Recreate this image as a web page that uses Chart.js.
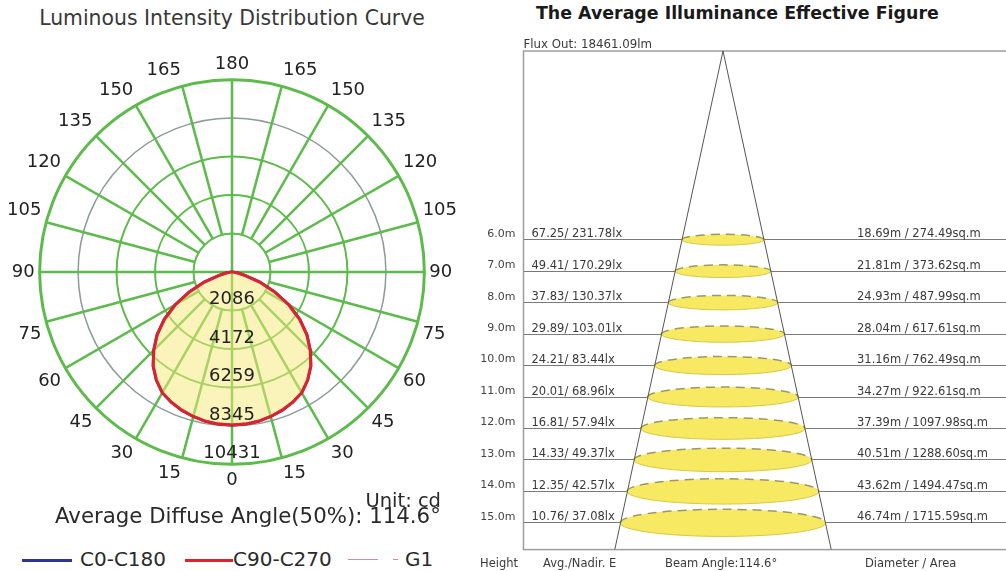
<!DOCTYPE html>
<html>
<head>
<meta charset="utf-8">
<script src="https://cdn.jsdelivr.net/npm/chart.js@4.4.0/dist/chart.umd.min.js"></script>
<style>
  html, body { margin: 0; padding: 0; background: #fff; }
  body { width: 1006px; height: 571px; position: relative; overflow: hidden;
         font-family: "DejaVu Sans", Verdana, sans-serif; color: #2a2a2a; }
  .txt { position: absolute; white-space: nowrap; }
  #polar-title { left: 0; width: 464px; top: 8px; font-size: 20.4px; line-height: 20px; text-align: center; color: #383838; }
  #unit { left: 0; width: 441px; top: 491px; font-size: 19.5px; line-height: 20px; text-align: right; }
  #diffuse { left: 55px; top: 506px; font-size: 21.3px; line-height: 20px; }
  #legend { position: absolute; left: 0; top: 548px; width: 465px; height: 22px; }
  .leg { position: absolute; top: 0; font-size: 20px; line-height: 22px; white-space: nowrap; }
  .leg i { position: absolute; top: 11px; height: 0; }
  #cone-title { left: 536px; top: 5px; font-size: 17.4px; line-height: 17px; font-weight: bold; color: #1a1a1a; }
  #polar-wrap { position: absolute; left: 7px; top: 51px; width: 451px; height: 444px; }
  #cone-wrap { position: absolute; left: 470px; top: 0; width: 542px; height: 571px; }
</style>
</head>
<body>
<div class="txt" id="polar-title">Luminous Intensity Distribution Curve</div>
<div id="polar-wrap"><canvas id="polar"></canvas></div>
<div class="txt" id="unit">Unit: cd</div>
<div class="txt" id="diffuse">Average Diffuse Angle(50%): 114.6°</div>
<div id="legend"></div>

<div class="txt" id="cone-title">The Average Illuminance Effective Figure</div>
<div id="cone-wrap"><canvas id="cone"></canvas></div>

<script>
// ---- polar curve data (cd), gamma angle 0 = straight down ----
const ANGLES = [0, 5, 10, 15, 20, 25, 30, 35, 40, 45, 50, 55, 60, 65, 70, 75, 80, 85, 90,
                95, 100, 105, 110, 115, 120, 125, 130, 135, 140, 145, 150, 155, 160, 165, 170, 175, 180];
const C0_C180 = [8300, 8280, 8220, 8110, 7970, 7790, 7560, 7150, 6650, 6000, 5300, 4480, 3550, 2550, 1600, 750, 330, 80, 0,
                 0, 0, 0, 0, 0, 0, 0, 0, 0, 0, 0, 0, 0, 0, 0, 0, 0, 0];
const C90_C270 = [8300, 8280, 8220, 8110, 7970, 7790, 7560, 7150, 6650, 6000, 5300, 4480, 3550, 2550, 1600, 750, 330, 80, 0,
                  0, 0, 0, 0, 0, 0, 0, 0, 0, 0, 0, 0, 0, 0, 0, 0, 0, 0];
const RING_VALUES = [0, 2086, 4172, 6259, 8345, 10431];

// ---- illuminance figure data ----
const FLUX_OUT = '18461.09lm';
const BEAM_ANGLE = 114.6;
const HEIGHTS = [6, 7, 8, 9, 10, 11, 12, 13, 14, 15];
const AVG_E = [67.25, 49.41, 37.83, 29.89, 24.21, 20.01, 16.81, 14.33, 12.35, 10.76];
const NADIR_E = [231.78, 170.29, 130.37, 103.01, 83.44, 68.96, 57.94, 49.37, 42.57, 37.08];
const DIAMETERS = [18.69, 21.81, 24.93, 28.04, 31.16, 34.27, 37.39, 40.51, 43.62, 46.74];
const AREAS = [274.49, 373.62, 487.99, 617.61, 762.49, 922.61, 1097.98, 1288.60, 1494.47, 1715.59];
const CONE_X = [-24.6, 0, 24.6];
const CONE_Y = [15.85, 0, 15.85];

const FONT = '"DejaVu Sans", Verdana, sans-serif';
const GREEN = '#5dbb4c';
const RING_GREY = '#8d9b99';
const RED = '#e0202c';
const BLUE = '#2c3596';
const PINK = '#d98a94';

// radar runs clockwise from the top: top = 180, right = 90, bottom = 0, left = 90
const radarLabels = [];
for (let i = 0; i < 72; i++) {
    const a = i * 5;
    radarLabels.push(String(a <= 180 ? 180 - a : a - 180));
}
const toRadar = vals => radarLabels.map(l => vals[ANGLES.indexOf(+l)]);

const polarDecor = {
    id: 'polarDecor',
    beforeDatasetsDraw(chart) {
        const r = chart.scales.r;
        const ctx = chart.ctx;
        ctx.save();
        ctx.strokeStyle = GREEN;
        ctx.lineWidth = 2.5;
        for (let i = 0; i < radarLabels.length; i += 3) {
            const axis = i % 18 === 0;
            const from = r.getPointPositionForValue(i, axis ? 0 : RING_VALUES[1]);
            const to = r.getPointPositionForValue(i, r.max);
            ctx.beginPath();
            ctx.moveTo(from.x, from.y);
            ctx.lineTo(to.x, to.y);
            ctx.stroke();
        }
        ctx.restore();
    },
    afterDatasetsDraw(chart) {
        const r = chart.scales.r;
        const ctx = chart.ctx;
        ctx.save();
        ctx.font = '18px ' + FONT;
        ctx.fillStyle = '#222';
        ctx.textAlign = 'center';
        ctx.textBaseline = 'middle';
        RING_VALUES.slice(1).forEach(v => {
            const d = r.getDistanceFromCenterForValue(v);
            ctx.fillText(String(v), r.xCenter, r.yCenter + d - 11);
        });
        ctx.restore();
    }
};

const polar = new Chart(document.getElementById('polar'), {
    type: 'radar',
    data: {
        labels: radarLabels,
        datasets: [
            { label: 'C0-C180', data: toRadar(C0_C180), borderColor: BLUE, borderWidth: 3,
              fill: false, pointRadius: 0, order: 2 },
            { label: 'C90-C270', data: toRadar(C90_C270), borderColor: RED, borderWidth: 3,
              backgroundColor: 'rgba(246,234,120,0.5)', fill: 'origin', pointRadius: 0, order: 1 },
            { label: 'G1', data: [], borderColor: PINK, borderWidth: 1, borderDash: [6, 4],
              pointRadius: 0, order: 3 }
        ]
    },
    options: {
        responsive: true,
        maintainAspectRatio: false,
        animation: false,
        plugins: { legend: { display: false }, tooltip: { enabled: false } },
        elements: { line: { tension: 0 } },
        scales: {
            r: {
                min: 0,
                max: 10431,
                startAngle: 0,
                afterBuildTicks: s => { s.ticks = RING_VALUES.map(v => ({ value: v })); },
                ticks: { display: false },
                grid: {
                    circular: true,
                    color: c => c.index === 4 ? RING_GREY : GREEN,
                    lineWidth: c => c.index === 5 ? 3 : (c.index === 4 ? 1.5 : 2)
                },
                angleLines: { display: false },
                pointLabels: {
                    font: { family: FONT, size: 18 },
                    color: '#222',
                    padding: 5,
                    callback: (l, i) => i % 3 === 0 ? l : ''
                }
            }
        }
    },
    plugins: [polarDecor]
});

// html legend from the polar datasets
(function buildLegend() {
    const lefts = [22, 185, 348];
    const lines = [50, 48, 30];
    const gaps = [8, 0, 27];
    const box = document.getElementById('legend');
    polar.data.datasets.forEach((ds, i) => {
        const item = document.createElement('div');
        item.className = 'leg';
        item.style.left = lefts[i] + 'px';
        item.style.paddingLeft = (lines[i] + gaps[i]) + 'px';
        item.textContent = ds.label;
        const ln = document.createElement('i');
        ln.style.left = '0px';
        ln.style.width = lines[i] + 'px';
        ln.style.borderTop = ds.borderWidth + 'px solid ' + ds.borderColor;
        item.appendChild(ln);
        if (ds.borderDash) {
            const dash = document.createElement('i');
            dash.style.left = (lines[i] + 15) + 'px';
            dash.style.width = '5px';
            dash.style.borderTop = '1px solid ' + ds.borderColor;
            item.appendChild(dash);
        }
        box.appendChild(item);
    });
})();

// ---- illuminance cone ----
const coneDecor = {
    id: 'coneDecor',
    beforeDatasetsDraw(chart) {
        const { ctx, chartArea: a, scales: { x, y } } = chart;
        ctx.save();
        ctx.strokeStyle = '#9d9d9d';
        ctx.lineWidth = 1.5;
        ctx.strokeRect(a.left, a.top, a.right - a.left, a.bottom - a.top);
        const cx = x.getPixelForValue(0);
        HEIGHTS.forEach((h, i) => {
            const rx = x.getPixelForValue(DIAMETERS[i] / 2) - cx;
            const ry = rx * 0.132;
            const cy = y.getPixelForValue(h);
            ctx.beginPath();
            ctx.ellipse(cx, cy, rx, ry, 0, 0, Math.PI * 2);
            ctx.fillStyle = '#f7ea62';
            ctx.fill();
            ctx.beginPath();
            ctx.ellipse(cx, cy, rx, ry, 0, 0, Math.PI);
            ctx.setLineDash([]);
            ctx.lineWidth = 1;
            ctx.strokeStyle = '#d6c84a';
            ctx.stroke();
            ctx.beginPath();
            ctx.ellipse(cx, cy, rx, ry, 0, Math.PI, Math.PI * 2);
            ctx.setLineDash([9, 6]);
            ctx.lineWidth = 1.5;
            ctx.strokeStyle = '#9e9765';
            ctx.stroke();
        });
        ctx.restore();
    },
    afterDraw(chart) {
        const { ctx, chartArea: a, scales: { y } } = chart;
        ctx.save();
        ctx.fillStyle = '#3a3a3a';
        ctx.textBaseline = 'alphabetic';
        ctx.font = '11.8px ' + FONT;
        ctx.fillText('Flux Out: ' + FLUX_OUT, a.left, a.top - 3);
        ctx.font = '11.5px ' + FONT;
        HEIGHTS.forEach((h, i) => {
            const yy = y.getPixelForValue(h) - 2.5;
            ctx.fillText(AVG_E[i].toFixed(2) + '/ ' + NADIR_E[i].toFixed(2) + 'lx', a.left + 8, yy);
            ctx.fillText(DIAMETERS[i].toFixed(2) + 'm / ' + AREAS[i].toFixed(2) + 'sq.m', 387, yy);
        });
        ctx.font = '11.5px ' + FONT;
        ctx.textBaseline = 'middle';
        const yb = a.bottom + 14;
        ctx.fillText('Height', 10, yb);
        ctx.fillText('Avg./Nadir. E', 73, yb);
        ctx.fillText('Beam Angle:' + BEAM_ANGLE + '°', 195, yb);
        ctx.fillText('Diameter / Area', 395, yb);
        ctx.restore();
    }
};

new Chart(document.getElementById('cone'), {
    type: 'scatter',
    data: {
        datasets: [{
            label: 'beam',
            data: CONE_X.map((v, i) => ({ x: v, y: CONE_Y[i] })),
            showLine: true,
            borderColor: '#555',
            borderWidth: 1,
            pointRadius: 0
        }]
    },
    options: {
        responsive: true,
        maintainAspectRatio: false,
        animation: false,
        layout: { padding: { left: 0, right: 0, top: 51, bottom: 21.4 } },
        plugins: { legend: { display: false }, tooltip: { enabled: false } },
        scales: {
            x: { type: 'linear', min: -45.34, max: 65.68, display: false },
            y: {
                type: 'linear',
                reverse: true,
                min: 0,
                max: 15.85,
                afterBuildTicks: s => { s.ticks = HEIGHTS.map(v => ({ value: v })); },
                afterFit: s => { s.width = 53.5; },
                ticks: {
                    callback: v => v.toFixed(1) + 'm',
                    font: { family: FONT, size: 11 },
                    color: '#444',
                    padding: 8,
                    labelOffset: -6
                },
                grid: { color: '#7a7a7a', lineWidth: 1, drawTicks: false },
                border: { display: false }
            }
        }
    },
    plugins: [coneDecor]
});
</script>
</body>
</html>
